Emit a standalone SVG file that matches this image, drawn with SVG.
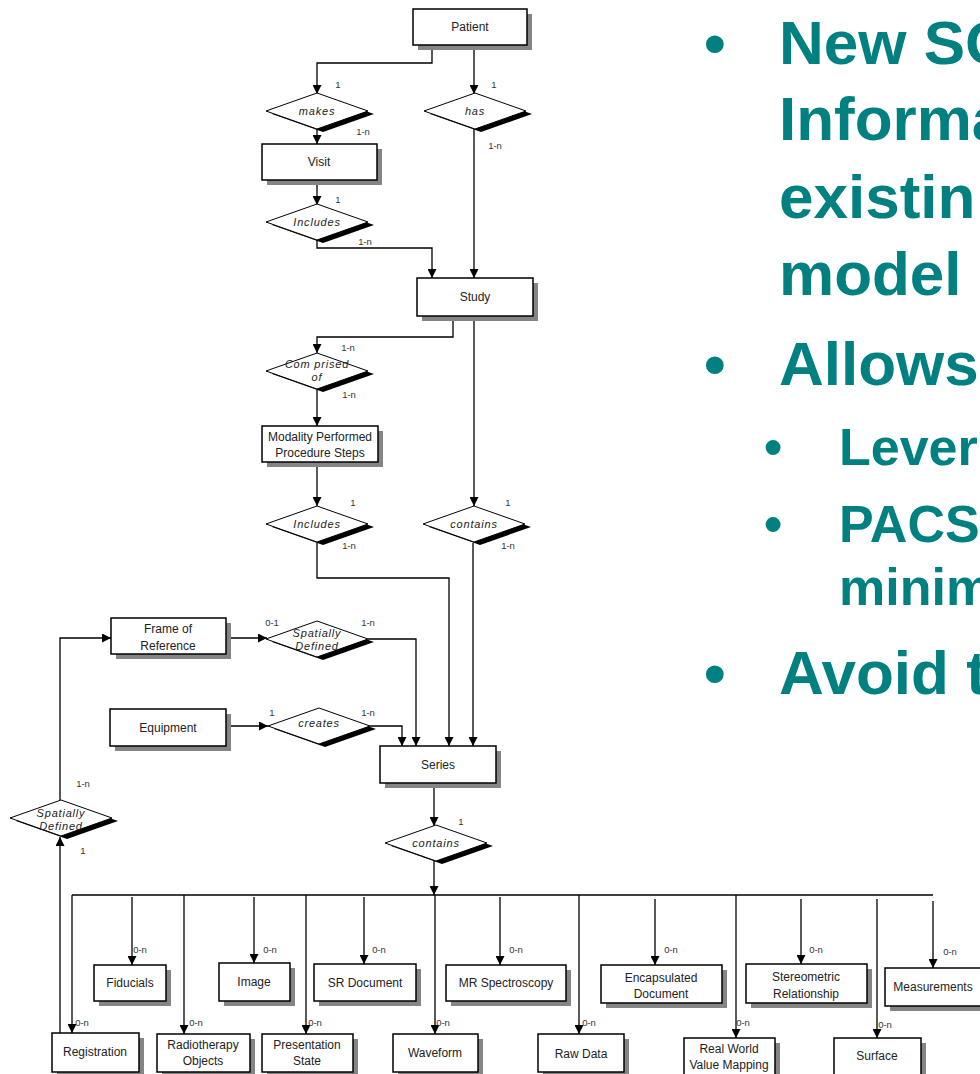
<svg xmlns="http://www.w3.org/2000/svg" xmlns:xlink="http://www.w3.org/1999/xlink" width="980" height="1074" viewBox="0 0 980 1074">
<style>
.bx{fill:#fff;stroke:#000;stroke-width:1.5}
.sh{fill:#858585}
.lbl{font-family:"Liberation Sans",Arial,sans-serif;font-size:12px;fill:#222;text-anchor:middle}
.rel{font-family:"Liberation Sans",Arial,sans-serif;font-size:11px;font-style:italic;letter-spacing:0.8px;fill:#222;text-anchor:middle}
.card{font-family:"Liberation Sans",Arial,sans-serif;font-size:9.5px;fill:#333;text-anchor:middle}
.ln{fill:none;stroke:#000;stroke-width:1.3}
.ar{marker-end:url(#arr)}
.t1{font-family:"Liberation Sans",Arial,sans-serif;font-weight:bold;font-size:62px;fill:#008080}
.t2{font-family:"Liberation Sans",Arial,sans-serif;font-weight:bold;font-size:52px;fill:#008080}
</style>
<defs>
<marker id="arr" viewBox="0 0 10 10" refX="10" refY="5" markerWidth="9" markerHeight="9" markerUnits="userSpaceOnUse" orient="auto">
<path d="M0,0 L10,5 L0,10 z" fill="#000"/>
</marker>
<g id="dia">
<polygon points="0,-18 51,0 0,18 -51,0" fill="#000" transform="translate(6,3)"/>
<polygon points="0,-18 51,0 0,18 -51,0" fill="#fff" stroke="#000" stroke-width="1"/>
</g>
</defs>
<rect width="980" height="1074" fill="#fff"/>

<g id="connectors">
<path class="ln ar" d="M432,45 V63 H317 V94"/>
<path class="ln ar" d="M474,45 V94"/>
<path class="ln ar" d="M317,129 V144"/>
<path class="ln ar" d="M317,180 V205"/>
<path class="ln ar" d="M317,240 V248 H432 V278"/>
<path class="ln ar" d="M474,129 V278"/>
<path class="ln ar" d="M453,316 V337 H317 V353"/>
<path class="ln ar" d="M317,390 V426"/>
<path class="ln ar" d="M317,462 V506"/>
<path class="ln ar" d="M474,316 V506"/>
<path class="ln ar" d="M317,543 V578 H449 V746"/>
<path class="ln ar" d="M473,543 V746"/>
<path class="ln ar" d="M226,638 H267"/>
<path class="ln ar" d="M368,639 H416 V746"/>
<path class="ln ar" d="M226,726 H268"/>
<path class="ln ar" d="M370,726 H402 V746"/>
<path class="ln ar" d="M434,783 V826"/>
<path class="ln ar" d="M434,860 V895"/>
<path class="ln ar" d="M60,1033 V837"/>
<path class="ln ar" d="M60,800 V638 H111"/>
<path class="ln" d="M72,895 H933"/>
<path class="ln ar" d="M72,895 V1033"/>
<path class="ln ar" d="M132,897 V965"/>
<path class="ln ar" d="M184,895 V1034"/>
<path class="ln ar" d="M254,897 V963"/>
<path class="ln ar" d="M306,895 V1034"/>
<path class="ln ar" d="M364,897 V964"/>
<path class="ln ar" d="M435,895 V1034"/>
<path class="ln ar" d="M500,897 V965"/>
<path class="ln ar" d="M579,895 V1034"/>
<path class="ln ar" d="M655,899 V965"/>
<path class="ln ar" d="M736,895 V1038"/>
<path class="ln ar" d="M801,899 V964"/>
<path class="ln ar" d="M877,899 V1038"/>
<path class="ln ar" d="M933,901 V968"/>
</g>

<g id="cardinalities">
<text class="card" x="338" y="88">1</text>
<text class="card" x="363" y="135">1-n</text>
<text class="card" x="494" y="88">1</text>
<text class="card" x="495" y="149">1-n</text>
<text class="card" x="338" y="203">1</text>
<text class="card" x="365" y="245">1-n</text>
<text class="card" x="348" y="351">1-n</text>
<text class="card" x="349" y="398">1-n</text>
<text class="card" x="353" y="506">1</text>
<text class="card" x="349" y="549">1-n</text>
<text class="card" x="508" y="506">1</text>
<text class="card" x="508" y="549">1-n</text>
<text class="card" x="272" y="626">0-1</text>
<text class="card" x="368" y="626">1-n</text>
<text class="card" x="272" y="716">1</text>
<text class="card" x="368" y="716">1-n</text>
<text class="card" x="83" y="787">1-n</text>
<text class="card" x="83" y="854">1</text>
<text class="card" x="461" y="825">1</text>
<text class="card" x="82" y="1026">0-n</text>
<text class="card" x="140" y="953">0-n</text>
<text class="card" x="196" y="1026">0-n</text>
<text class="card" x="270" y="953">0-n</text>
<text class="card" x="315" y="1026">0-n</text>
<text class="card" x="379" y="953">0-n</text>
<text class="card" x="443" y="1026">0-n</text>
<text class="card" x="516" y="953">0-n</text>
<text class="card" x="589" y="1026">0-n</text>
<text class="card" x="671" y="953">0-n</text>
<text class="card" x="743" y="1026">0-n</text>
<text class="card" x="816" y="953">0-n</text>
<text class="card" x="885" y="1028">0-n</text>
<text class="card" x="950" y="955">0-n</text>
</g>

<g id="rel-makes"><use xlink:href="#dia" transform="translate(317,111)"/><text class="rel" x="317" y="115">makes</text></g>
<g id="rel-has"><use xlink:href="#dia" transform="translate(475,111)"/><text class="rel" x="475" y="115">has</text></g>
<g id="rel-includes1"><use xlink:href="#dia" transform="translate(317,222)"/><text class="rel" x="317" y="226">Includes</text></g>
<g id="rel-comprised"><use xlink:href="#dia" transform="translate(317,371)"/><text class="rel" x="317" y="368">Com prised</text><text class="rel" x="317" y="381">of</text></g>
<g id="rel-includes2"><use xlink:href="#dia" transform="translate(317,524)"/><text class="rel" x="317" y="528">Includes</text></g>
<g id="rel-contains1"><use xlink:href="#dia" transform="translate(474,524)"/><text class="rel" x="474" y="528">contains</text></g>
<g id="rel-spatially1"><use xlink:href="#dia" transform="translate(317,639)"/><text class="rel" x="317" y="637">Spatially</text><text class="rel" x="317" y="650">Defined</text></g>
<g id="rel-creates"><use xlink:href="#dia" transform="translate(319,726)"/><text class="rel" x="319" y="727">creates</text></g>
<g id="rel-spatially2"><use xlink:href="#dia" transform="translate(61,818)"/><text class="rel" x="61" y="817">Spatially</text><text class="rel" x="61" y="830">Defined</text></g>
<g id="rel-contains2"><use xlink:href="#dia" transform="translate(436,843)"/><text class="rel" x="436" y="847">contains</text></g>

<g id="patient"><rect class="sh" x="418" y="14" width="114" height="36"/><rect class="bx" x="413" y="9" width="114" height="36"/><text class="lbl" x="470" y="31">Patient</text></g>
<g id="visit"><rect class="sh" x="267" y="149" width="115" height="36"/><rect class="bx" x="262" y="144" width="115" height="36"/><text class="lbl" x="319" y="166">Visit</text></g>
<g id="study"><rect class="sh" x="422" y="283" width="116" height="38"/><rect class="bx" x="417" y="278" width="116" height="38"/><text class="lbl" x="475" y="301">Study</text></g>
<g id="mpps"><rect class="sh" x="267" y="431" width="116" height="36"/><rect class="bx" x="262" y="426" width="116" height="36"/><text class="lbl" x="320" y="441">Modality Performed</text><text class="lbl" x="320" y="457">Procedure Steps</text></g>
<g id="frame-of-reference"><rect class="sh" x="116" y="623" width="115" height="36"/><rect class="bx" x="111" y="618" width="115" height="36"/><text class="lbl" x="168" y="633">Frame of</text><text class="lbl" x="168" y="650">Reference</text></g>
<g id="equipment"><rect class="sh" x="115" y="714" width="116" height="37"/><rect class="bx" x="110" y="709" width="116" height="37"/><text class="lbl" x="168" y="732">Equipment</text></g>
<g id="series"><rect class="sh" x="385" y="751" width="116" height="37"/><rect class="bx" x="380" y="746" width="116" height="37"/><text class="lbl" x="438" y="769">Series</text></g>
<g id="fiducials"><rect class="sh" x="99" y="970" width="72" height="36"/><rect class="bx" x="94" y="965" width="72" height="36"/><text class="lbl" x="130" y="987">Fiducials</text></g>
<g id="image"><rect class="sh" x="224" y="968" width="71" height="38"/><rect class="bx" x="219" y="963" width="71" height="38"/><text class="lbl" x="254" y="986">Image</text></g>
<g id="sr-document"><rect class="sh" x="319" y="969" width="102" height="37"/><rect class="bx" x="314" y="964" width="102" height="37"/><text class="lbl" x="365" y="987">SR Document</text></g>
<g id="mr-spectroscopy"><rect class="sh" x="451" y="970" width="120" height="36"/><rect class="bx" x="446" y="965" width="120" height="36"/><text class="lbl" x="506" y="987">MR Spectroscopy</text></g>
<g id="encapsulated-document"><rect class="sh" x="606" y="970" width="121" height="38"/><rect class="bx" x="601" y="965" width="121" height="38"/><text class="lbl" x="661" y="982">Encapsulated</text><text class="lbl" x="661" y="998">Document</text></g>
<g id="stereometric-relationship"><rect class="sh" x="751" y="969" width="121" height="39"/><rect class="bx" x="746" y="964" width="121" height="39"/><text class="lbl" x="806" y="981">Stereometric</text><text class="lbl" x="806" y="998">Relationship</text></g>
<g id="measurements"><rect class="sh" x="890" y="973" width="100" height="38"/><rect class="bx" x="885" y="968" width="100" height="38"/><text class="lbl" x="933" y="991">Measurements</text></g>
<g id="registration"><rect class="sh" x="57" y="1038" width="87" height="39"/><rect class="bx" x="52" y="1033" width="87" height="39"/><text class="lbl" x="95" y="1056">Registration</text></g>
<g id="radiotherapy-objects"><rect class="sh" x="162" y="1039" width="93" height="38"/><rect class="bx" x="157" y="1034" width="93" height="38"/><text class="lbl" x="203" y="1049">Radiotherapy</text><text class="lbl" x="203" y="1065">Objects</text></g>
<g id="presentation-state"><rect class="sh" x="267" y="1039" width="91" height="38"/><rect class="bx" x="262" y="1034" width="91" height="38"/><text class="lbl" x="307" y="1049">Presentation</text><text class="lbl" x="307" y="1065">State</text></g>
<g id="waveform"><rect class="sh" x="398" y="1039" width="85" height="38"/><rect class="bx" x="393" y="1034" width="85" height="38"/><text class="lbl" x="435" y="1057">Waveform</text></g>
<g id="raw-data"><rect class="sh" x="543" y="1039" width="86" height="38"/><rect class="bx" x="538" y="1034" width="86" height="38"/><text class="lbl" x="581" y="1058">Raw Data</text></g>
<g id="real-world-value-mapping"><rect class="sh" x="689" y="1043" width="91" height="38"/><rect class="bx" x="684" y="1038" width="91" height="38"/><text class="lbl" x="729" y="1053">Real World</text><text class="lbl" x="729" y="1069">Value Mapping</text></g>
<g id="surface"><rect class="sh" x="839" y="1043" width="87" height="38"/><rect class="bx" x="834" y="1038" width="87" height="38"/><text class="lbl" x="877" y="1060">Surface</text></g>

<g id="slide-text">
<text class="t1" x="704" y="64">•</text>
<text class="t1" x="779" y="64">New SO</text>
<text class="t1" x="779" y="140">Informa</text>
<text class="t1" x="779" y="218">existin</text>
<text class="t1" x="779" y="295">model</text>
<text class="t1" x="704" y="385">•</text>
<text class="t1" x="779" y="385">Allows</text>
<text class="t2" x="764" y="465">•</text>
<text class="t2" x="839" y="465">Lever</text>
<text class="t2" x="764" y="542">•</text>
<text class="t2" x="839" y="542">PACS</text>
<text class="t2" x="839" y="605">minim</text>
<text class="t1" x="704" y="694">•</text>
<text class="t1" x="779" y="694">Avoid t</text>
</g>
</svg>
